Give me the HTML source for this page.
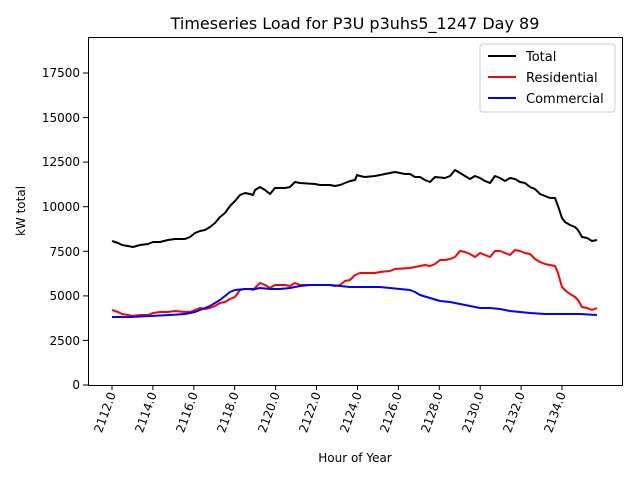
<!DOCTYPE html>
<html><head><meta charset="utf-8"><style>body{margin:0;background:#fff}svg{display:block}text{font-family:"DejaVu Sans","Liberation Sans",sans-serif;fill:#000}</style></head><body>
<svg width="640" height="480" xmlns="http://www.w3.org/2000/svg">
<rect width="640" height="480" fill="#fff"/>
<text x="355" y="29" font-size="16" text-anchor="middle">Timeseries Load for P3U p3uhs5_1247  Day 89</text>
<g stroke="#000" stroke-width="1">
<line x1="88" y1="385" x2="83" y2="385"/><line x1="88" y1="340.4" x2="83" y2="340.4"/><line x1="88" y1="295.9" x2="83" y2="295.9"/><line x1="88" y1="251.3" x2="83" y2="251.3"/><line x1="88" y1="206.7" x2="83" y2="206.7"/><line x1="88" y1="162.1" x2="83" y2="162.1"/><line x1="88" y1="117.6" x2="83" y2="117.6"/><line x1="88" y1="73" x2="83" y2="73"/>
</g>
<g font-size="12" text-anchor="end">
<text x="80" y="389">0</text><text x="80" y="345">2500</text><text x="80" y="300">5000</text><text x="80" y="256">7500</text><text x="80" y="211">10000</text><text x="80" y="166">12500</text><text x="80" y="122">15000</text><text x="80" y="77">17500</text>
</g>
<g stroke="#000" stroke-width="1" id="xt">
<line x1="112" y1="385" x2="112" y2="390"/><line x1="152.9" y1="385" x2="152.9" y2="390"/><line x1="193.8" y1="385" x2="193.8" y2="390"/><line x1="234.7" y1="385" x2="234.7" y2="390"/><line x1="275.6" y1="385" x2="275.6" y2="390"/><line x1="316.5" y1="385" x2="316.5" y2="390"/><line x1="357.5" y1="385" x2="357.5" y2="390"/><line x1="398.4" y1="385" x2="398.4" y2="390"/><line x1="439.3" y1="385" x2="439.3" y2="390"/><line x1="480.2" y1="385" x2="480.2" y2="390"/><line x1="521.1" y1="385" x2="521.1" y2="390"/><line x1="562" y1="385" x2="562" y2="390"/>
</g>
<g font-size="12" text-anchor="end">
<text transform="translate(116,394) rotate(-70)">2112.0</text>
<text transform="translate(157,394) rotate(-70)">2114.0</text>
<text transform="translate(198,394) rotate(-70)">2116.0</text>
<text transform="translate(239,394) rotate(-70)">2118.0</text>
<text transform="translate(280,394) rotate(-70)">2120.0</text>
<text transform="translate(321,394) rotate(-70)">2122.0</text>
<text transform="translate(362,394) rotate(-70)">2124.0</text>
<text transform="translate(402,394) rotate(-70)">2126.0</text>
<text transform="translate(443,394) rotate(-70)">2128.0</text>
<text transform="translate(484,394) rotate(-70)">2130.0</text>
<text transform="translate(525,394) rotate(-70)">2132.0</text>
<text transform="translate(566,394) rotate(-70)">2134.0</text>
</g>
<text x="355" y="462" font-size="12" text-anchor="middle">Hour of Year</text>
<text transform="translate(25,211) rotate(-90)" font-size="12" text-anchor="middle">kW total</text>
<g fill="none" stroke-width="2" stroke-linejoin="round">
<polyline stroke="#000" points="112,241 118,243 122,245 128,246 133,247 140,245 148,244 153,242 160,242 168,240 175,239 185,239 190,237 195,233 200,231 205,230 210,227 215,223 220,217 225,213 230,206 235,201 240,195 245,193 250,194 253,195 255,190 260,187 265,190 270,194 275,188 285,188 290,187 295,182 300,183 315,184 320,185 330,185 335,186 340,185 345,183 350,181 355,180 357,175 360,176 365,177 375,176 380,175 385,174 395,172 400,173 405,174 410,174 415,177 420,177 425,180 430,182 435,177 445,178 450,176 455,170 460,173 465,176 470,179 475,176 480,178 485,181 490,183 495,176 500,178 505,181 510,178 515,179 520,182 525,183 530,187 535,189 540,194 545,196 550,198 555,198 558,206 562,218 565,222 570,225 575,227 578,230 582,237 587,238 592,241 597,240"/>
<polyline stroke="#f00" points="112,310 118,312 122,314 128,315 132,316 140,315 148,315 153,313 160,312 168,312 175,311 185,312 190,312 195,310 200,308 205,309 210,308 215,306 220,303 225,302 230,299 235,297 240,290 245,289 250,289 253,290 255,288 260,283 265,285 270,288 275,285 285,285 290,286 295,283 300,285 320,285 330,285 335,286 340,285 345,281 350,280 355,275 360,273 375,273 380,272 390,271 395,269 410,268 420,266 425,265 430,266 435,264 440,260 445,260 450,259 455,257 460,251 465,252 470,254 475,257 480,253 485,255 490,257 495,251 500,251 505,253 510,255 515,250 520,251 525,253 530,254 535,259 540,262 545,264 550,265 555,266 558,273 562,287 566,291 570,294 575,297 578,300 582,307 587,308 592,310 597,308"/>
<polyline stroke="#00f" points="112,317 130,317 150,316 170,315 185,314 195,312 200,310 205,308 210,306 215,303 220,300 225,296 230,292 235,290 245,289 255,289 260,288 270,289 280,289 290,288 300,286 310,285 320,285 330,285 340,286 350,287 360,287 380,287 390,288 400,289 410,290 415,292 420,295 430,298 440,301 450,302 460,304 470,306 480,308 490,308 500,309 510,311 520,312 530,313 545,314 560,314 580,314 597,315"/>
</g>
<rect x="88.5" y="37.5" width="534" height="348" fill="none" stroke="#000" stroke-width="1"/>
<rect x="480" y="44" width="135" height="68" rx="3" fill="#fff" stroke="#ccc" stroke-width="1"/>
<g stroke-width="2"><line x1="488" y1="56" x2="516" y2="56" stroke="#000"/><line x1="488" y1="77" x2="516" y2="77" stroke="#f00"/><line x1="488" y1="98" x2="516" y2="98" stroke="#00f"/></g>
<g font-size="13"><text x="526" y="61">Total</text><text x="526" y="82">Residential</text><text x="526" y="103">Commercial</text></g>
</svg>
</body></html>
